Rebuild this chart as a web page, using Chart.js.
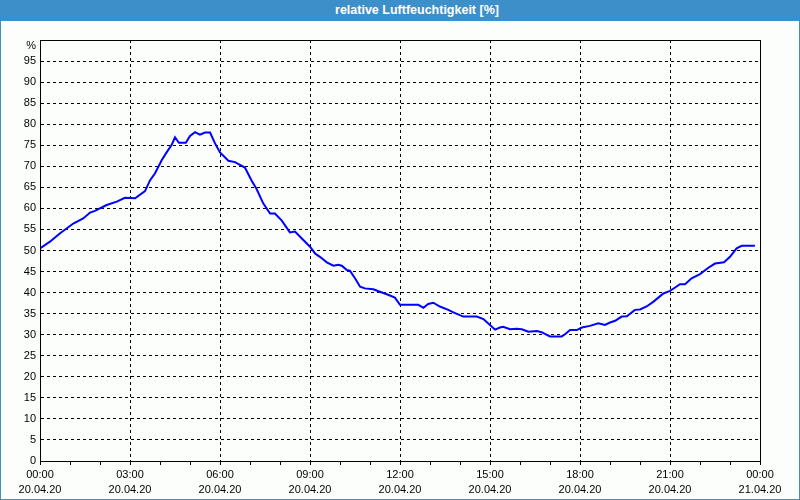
<!DOCTYPE html>
<html>
<head>
<meta charset="utf-8">
<script src="https://cdn.jsdelivr.net/npm/chart.js@4"></script>
<style>
	body { margin: 0; }
	#frame {
		width: 800px; height: 500px; box-sizing: border-box;
		border: 1px solid #3c8fc8; border-top: none;
		background: #fcfefc; position: relative;
	}
	#head {
		height: 21px; margin: 0 -1px; padding-left: 34px; background: #3c8fc8; color: #fff;
		font: bold 12.5px "Liberation Sans", Arial, sans-serif;
		line-height: 21px; text-align: center;
	}
	#box { width: 798px; height: 478px; }
</style>
</head>
<body>
<div id="frame">
	<div id="head">relative Luftfeuchtigkeit [%]</div>
	<div id="box"><canvas id="humChart" width="798" height="478"></canvas></div>
</div>
<script>
// hours after 20.04.20 00:00
var hours = [0, 0.33, 0.67, 1.11, 1.44, 1.67, 1.83, 2.22, 2.56, 2.83, 3.17, 3.5, 3.67, 3.83, 4.06, 4.22, 4.39, 4.5, 4.63, 4.86,
	5.0, 5.17, 5.33, 5.5, 5.67, 5.83, 6.0, 6.28, 6.5, 6.83, 7.06, 7.22, 7.44, 7.67, 7.83, 8.06, 8.33, 8.5, 8.72, 9.0,
	9.17, 9.33, 9.56, 9.78, 9.94, 10.06, 10.22, 10.33, 10.5, 10.67, 10.83, 11.11, 11.33, 11.56, 11.83, 12.0, 12.61, 12.78, 12.94, 13.11,
	13.33, 13.61, 13.78, 14.11, 14.56, 14.78, 15.0, 15.17, 15.33, 15.44, 15.67, 15.89, 16.06, 16.28, 16.56, 16.72, 17.0, 17.39, 17.5, 17.67,
	17.89, 18.06, 18.33, 18.61, 18.83, 19.0, 19.17, 19.39, 19.56, 19.83, 20.0, 20.22, 20.44, 20.78, 21.0, 21.17, 21.33, 21.5, 21.72, 22.0,
	22.28, 22.5, 22.8, 23.0, 23.22, 23.39, 23.83];
var humidity = [50.5, 52.1, 54.1, 56.4, 57.6, 59.0, 59.4, 60.8, 61.6, 62.5, 62.4, 64.1, 66.7, 68.3, 71.5, 73.3, 75.1, 76.9, 75.6, 75.6,
	77.2, 78.1, 77.5, 78.0, 78.0, 75.5, 73.3, 71.3, 71.0, 69.7, 66.5, 64.6, 61.2, 58.8, 58.8, 57.1, 54.3, 54.5, 52.9, 50.9,
	49.3, 48.5, 47.2, 46.4, 46.6, 46.4, 45.4, 45.2, 43.4, 41.4, 41.0, 40.8, 40.2, 39.6, 38.8, 37.1, 37.1, 36.4, 37.3, 37.6,
	36.7, 35.9, 35.3, 34.3, 34.3, 33.7, 32.3, 31.2, 31.7, 31.9, 31.3, 31.4, 31.3, 30.7, 30.9, 30.6, 29.6, 29.6, 30.1, 31.1,
	31.1, 31.7, 32.1, 32.7, 32.3, 32.9, 33.3, 34.3, 34.4, 35.9, 36.0, 36.7, 37.8, 39.8, 40.4, 41.2, 42.0, 42.0, 43.4, 44.4,
	45.9, 46.9, 47.2, 48.5, 50.5, 51.1, 51.1];
var timeLabels = ["00:00", "03:00", "06:00", "09:00", "12:00", "15:00", "18:00", "21:00", "00:00"];
var dateLabels = ["20.04.20", "20.04.20", "20.04.20", "20.04.20", "20.04.20", "20.04.20", "20.04.20", "20.04.20", "21.04.20"];
var yUnit = "%";

var points = [];
hours.forEach((h, i) => {
	points.push({ x: h, y: humidity[i] });
});

Chart.defaults.font.family = "'Liberation Sans', Arial, sans-serif";
Chart.defaults.font.size = 11;
Chart.defaults.color = "#000";

// solid frame around plot + unit label at top of y axis
const frameBox = {
	id: "frameBox",
	afterDatasetsDraw(chart) {
		const a = chart.chartArea;
		const ctx = chart.ctx;
		ctx.save();
		ctx.strokeStyle = "#000";
		ctx.lineWidth = 1;
		ctx.strokeRect(Math.round(a.left) + 0.5, Math.round(a.top) + 0.5, Math.round(a.right - a.left), Math.round(a.bottom - a.top));
		ctx.fillStyle = "#000";
		ctx.font = "11px 'Liberation Sans', Arial, sans-serif";
		ctx.textAlign = "right";
		ctx.textBaseline = "middle";
		ctx.fillText(yUnit, a.left - 4, chart.scales.y.getPixelForValue(100) + 6);
		ctx.restore();
	}
};

new Chart(document.getElementById("humChart"), {
	type: "line",
	data: {
		datasets: [{
			data: points,
			borderColor: "#0000ff",
			borderWidth: 2,
			pointRadius: 0,
			tension: 0,
			fill: false
		}]
	},
	options: {
		responsive: false,
		animation: false,
		layout: { padding: { left: 0, top: 19, right: 39, bottom: 0 } },
		plugins: { legend: { display: false }, tooltip: { enabled: false } },
		scales: {
			x: {
				type: "linear",
				min: 0,
				max: 24,
				afterFit: s => { s.height = 38; },
				ticks: {
					stepSize: 1,
					autoSkip: false,
					maxRotation: 0,
					padding: 3,
					font: { lineHeight: 1.35 },
					callback: v => v % 3 === 0 ? [timeLabels[v / 3], dateLabels[v / 3]] : ""
				},
				grid: {
					color: c => (c.tick && c.tick.value % 3 === 0) ? "#000" : "rgba(0,0,0,0)",
					tickColor: "#000",
					tickLength: 4,
					lineWidth: 1
				},
				border: { color: "#000", dash: [3, 3] }
			},
			y: {
				min: 0,
				max: 100,
				afterFit: s => { s.width = 39; },
				ticks: {
					stepSize: 5,
					padding: 4,
					callback: v => v === 100 ? "" : v
				},
				grid: { color: "#000", drawTicks: false, lineWidth: 1 },
				border: { color: "#000", dash: [3, 3] }
			}
		}
	},
	plugins: [frameBox]
});
</script>
</body>
</html>
